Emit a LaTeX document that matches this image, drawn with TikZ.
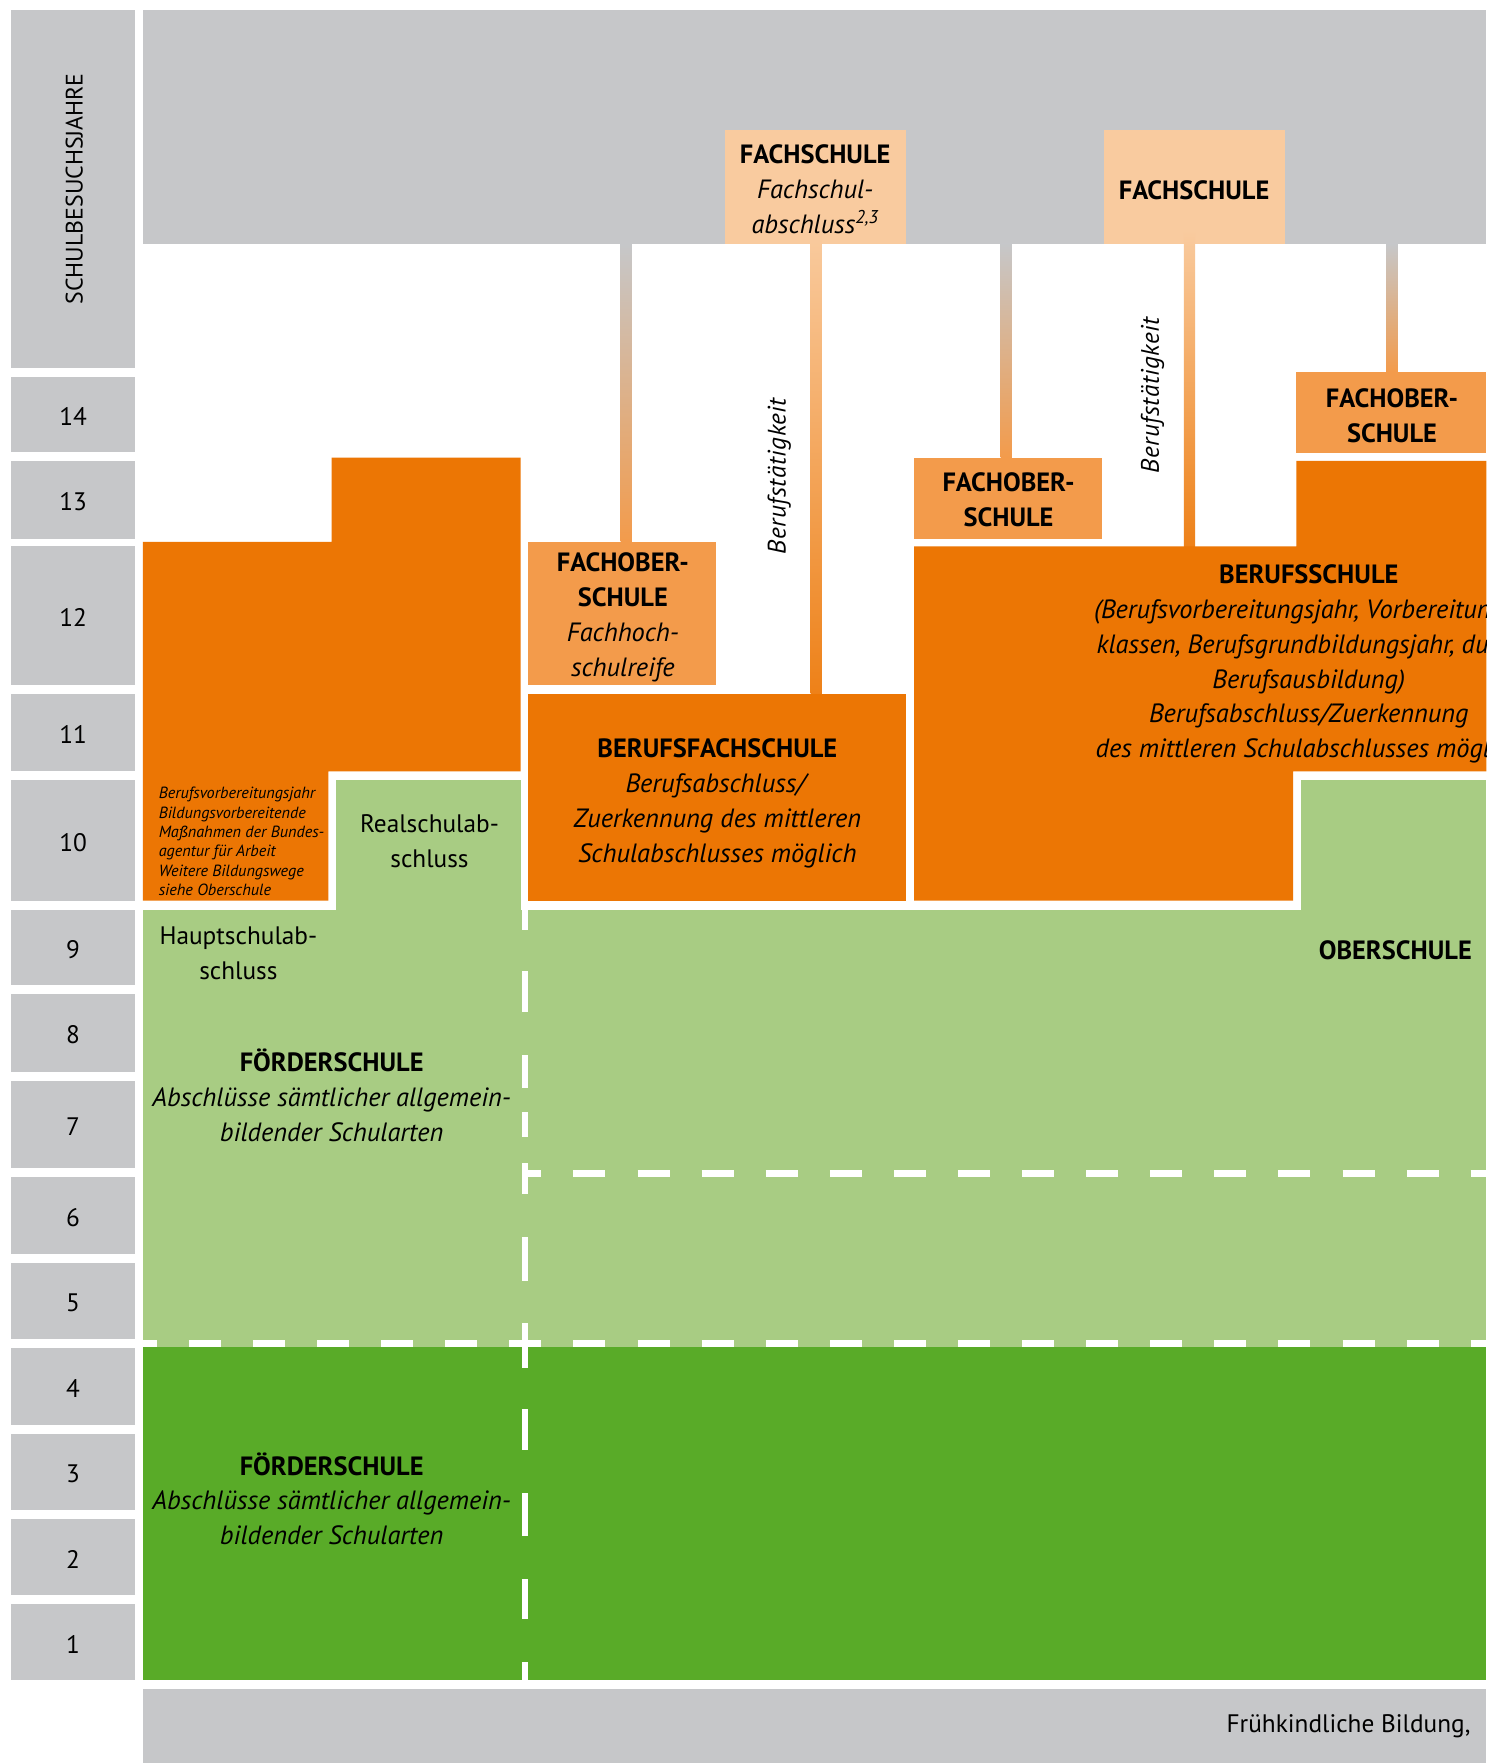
\documentclass[tikz,border=0pt]{standalone}
\usepackage{fontspec}
\setmainfont{PT Sans}
\definecolor{cgray}{HTML}{C6C7C9}
\definecolor{corange}{HTML}{EC7604}
\definecolor{clorange}{HTML}{F39B4B}
\definecolor{cpeach}{HTML}{F9CB9F}
\definecolor{clgreen}{HTML}{A8CC83}
\definecolor{cdgreen}{HTML}{59AB28}
\tikzset{
  T/.style={font=\fontsize{23.5}{31}\selectfont, align=center, inner sep=0pt, text=black},
  TR/.style={font=\fontsize{22.5}{31}\selectfont, align=center, inner sep=0pt, text=black},
  TS/.style={font=\fontsize{14.4}{17.2}\selectfont\itshape, align=left, inner sep=0pt, text=black},
  grayconn/.style={top color=cgray, bottom color=clorange},
  peachconn/.style={top color=cpeach, bottom color=corange!92!white},
  wdash/.style={white, line width=6.5pt, dash pattern=on 28.5pt off 28.5pt},
}
\begin{document}
\begin{tikzpicture}[x=1pt,y=-1pt]
\useasboundingbox (0,0) rectangle (1322,1568);
\clip (0,0) rectangle (1322,1568);
\fill[white] (0,0) rectangle (1322,1568);

% year column
\fill[cgray] (10,9) rectangle (120,327);
\node[T, font=\fontsize{21.2}{31}\selectfont, rotate=90] (hdr) at (66,168) {SCHULBESUCHSJAHRE};
\foreach \n/\a/\b in {14/335/402, 13/410/479, 12/486/609, 11/617/686, 10/694/801, 9/809/876, 8/884/953, 7/961/1039, 6/1047/1115, 5/1123/1191, 4/1199/1267, 3/1275/1343, 2/1351/1419, 1/1427/1494}{
  \fill[cgray] (10,\a) rectangle (120,\b);
  \node[TR] (y\n) at (65,{(\a+\b)/2+2}) {\n};
}

% top gray band and bottom band
\fill[cgray] (127,9) rectangle (1322,217);
\fill[cgray] (127,1502) rectangle (1322,1568);

% Fachschule boxes
\fill[cpeach] (645,116) rectangle (806,217);
\fill[cpeach] (982,116) rectangle (1143,217);

% connector bars
\shade[grayconn] (552,217) rectangle (562,482);
\shade[peachconn] (721,205) rectangle (731,617);
\shade[grayconn] (890,217) rectangle (900,407);
\shade[peachconn] (1053,205) rectangle (1063,486);
\shade[grayconn] (1233,217) rectangle (1243,331);

% orange blocks
\fill[corange] (127,482) -- (295,482) -- (295,407) -- (463,407) -- (463,686) -- (292,686) -- (292,801) -- (127,801) -- cycle;
\fill[clorange] (470,482) rectangle (637,609);
\fill[corange] (470,617) rectangle (806,801);
\fill[clorange] (813,407) rectangle (980,479);
\fill[clorange] (1153,331) rectangle (1322,403);
\fill[corange] (813,486) -- (1153,486) -- (1153,410) -- (1322,410) -- (1322,686) -- (1150,686) -- (1150,801) -- (813,801) -- cycle;

% greens
\fill[clgreen] (127,809) rectangle (1322,1198);
\fill[clgreen] (299,694) rectangle (463,809);
\fill[clgreen] (1157,694) rectangle (1322,809);
\fill[cdgreen] (127,1198) rectangle (1322,1494);

% dashed white lines
\draw[wdash, dash phase=16pt] (127,1195) -- (1322,1195);
\draw[wdash, dash phase=14pt] (467,1043.5) -- (1322,1043.5);
\foreach \a/\b in {801/827, 864/900, 938/968, 989/1011, 1034/1062, 1100/1139, 1177/1217, 1253/1290, 1328/1366, 1404/1440, 1478/1494}{
  \fill[white] (464,\a) rectangle (470,\b);
}

% texts
\node[T] (fs1) at (725,168.5) {\textbf{FACHSCHULE}\\\textit{Fachschul-}\\\textit{abschluss\textsuperscript{2,3}}};
\node[T] (fs2) at (1062,169) {\textbf{FACHSCHULE}};
\node[T] (fos1) at (554,549) {\textbf{FACHOBER-}\\\textbf{SCHULE}\\\textit{Fachhoch-}\\\textit{schulreife}};
\node[T] (fos2) at (897,444.5) {\textbf{FACHOBER-}\\\textbf{SCHULE}};
\node[T] (fos3) at (1238,369.5) {\textbf{FACHOBER-}\\\textbf{SCHULE}};
\node[T] (bfs) at (638,714.5) {\textbf{BERUFSFACHSCHULE}\\\textit{Berufsabschluss/}\\\textit{Zuerkennung des mittleren}\\\textit{Schulabschlusses möglich}};
\node[T] (bs) at (1164,590.5) {\textbf{BERUFSSCHULE}\\\textit{(Berufsvorbereitungsjahr, Vorbereitungs-}\\\textit{klassen, Berufsgrundbildungsjahr, duale}\\\textit{Berufsausbildung)}\\\textit{Berufsabschluss/Zuerkennung}\\\textit{des mittleren Schulabschlusses möglich}};
\node[TS, anchor=west] (bvj) at (141,748.5) {Berufsvorbereitungsjahr\\Bildungsvorbereitende\\Maßnahmen der Bundes-\\agentur für Arbeit\\Weitere Bildungswege\\siehe Oberschule};
\node[TR] (rsa) at (382,748) {Realschulab-\\schluss};
\node[TR] (hsa) at (212,848) {Hauptschulab-\\schluss};
\node[T] (fsch1) at (295,974) {\textbf{FÖRDERSCHULE}\\\textit{Abschlüsse sämtlicher allgemein-}\\\textit{bildender Schularten}};
\node[T] (fsch2) at (295,1333) {\textbf{FÖRDERSCHULE}\\\textit{Abschlüsse sämtlicher allgemein-}\\\textit{bildender Schularten}};
\node[T] (obs) at (1241,845) {\textbf{OBERSCHULE}};
\node[TR, rotate=90] (bt1) at (693,423) {\addfontfeature{LetterSpace=2}\textit{Berufstätigkeit}};
\node[TR, rotate=90] (bt2) at (1025,351) {\addfontfeature{LetterSpace=2}\textit{Berufstätigkeit}};
\node[TR, anchor=east] (fkb) at (1308,1535) {Frühkindliche Bildung,};
\end{tikzpicture}
\end{document}
